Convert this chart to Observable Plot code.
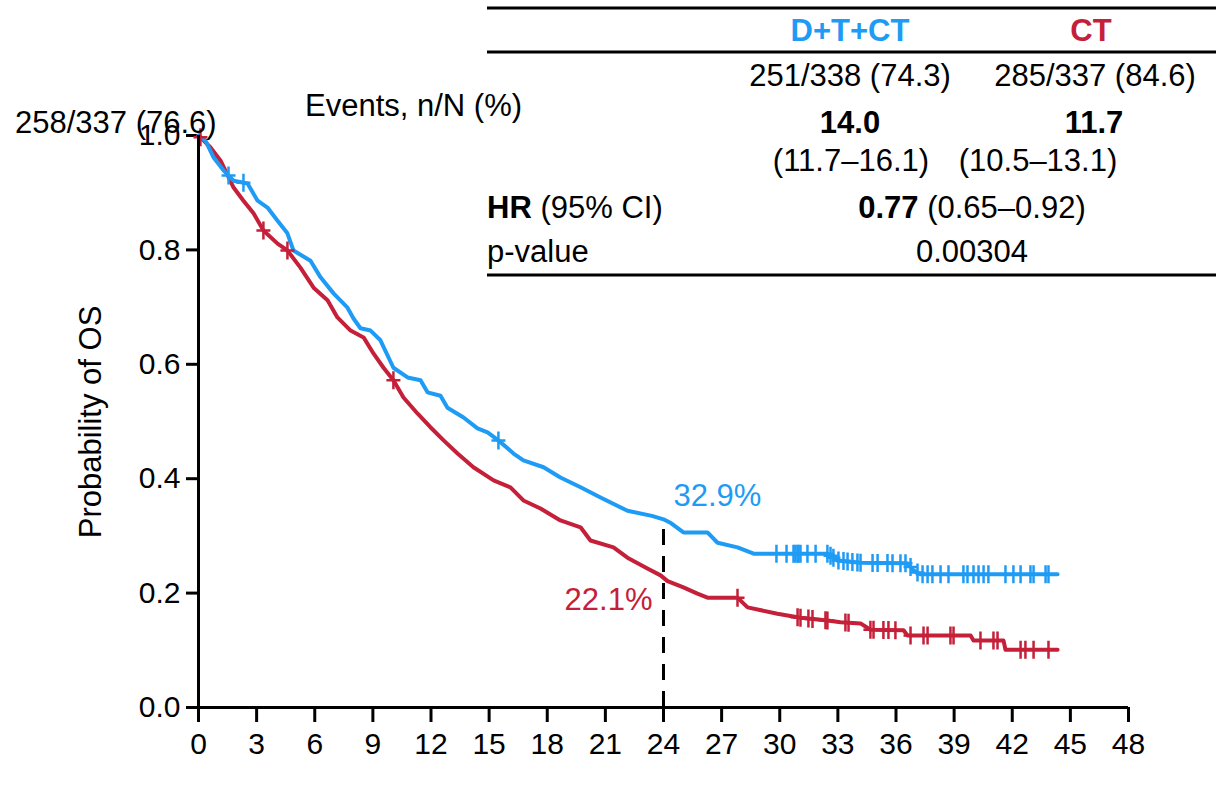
<!DOCTYPE html>
<html><head><meta charset="utf-8">
<script src="https://cdn.jsdelivr.net/npm/d3@7"></script>
<script src="https://cdn.jsdelivr.net/npm/@observablehq/plot@0.6"></script>
<style>
body{margin:0;background:#fff;}
svg{font-family:"Liberation Sans",Arial,sans-serif;}
g[aria-label^="x-axis"] line, g[aria-label^="x-axis"] path,
g[aria-label^="y-axis"] line, g[aria-label^="y-axis"] path{stroke-width:3px;}
</style>
</head><body><div id="chart"></div>
<script>
const BLUE = "#1e9bf5", RED = "#c52039";
const armNames = ["D+T+CT", "CT"];

// Kaplan–Meier OS curves (months, survival probability)
const blueTime = [0,0.36,0.77,1.29,1.81,2.53,3.05,3.56,4.08,4.59,4.90,5.78,6.30,6.97,7.69,8.00,8.36,8.88,9.39,10.06,10.79,11.46,11.82,12.49,12.85,13.68,14.40,14.92,15.48,16.26,16.77,17.81,18.68,19.72,20.75,22.14,23.40,24.00,24.40,25.03,26.27,26.79,27.82,28.65,32.46,32.98,34.17,36.59,36.90,37.26,44.34];
const blueSurv = [1.000,0.991,0.962,0.939,0.921,0.916,0.886,0.874,0.851,0.829,0.799,0.781,0.752,0.724,0.699,0.680,0.663,0.659,0.642,0.594,0.577,0.572,0.551,0.545,0.524,0.507,0.488,0.481,0.467,0.444,0.432,0.420,0.402,0.385,0.367,0.344,0.335,0.329,0.322,0.306,0.306,0.288,0.280,0.269,0.269,0.257,0.253,0.252,0.240,0.233,0.233];
const redTime = [0,0.10,0.62,1.14,1.81,2.32,2.84,3.35,4.08,4.59,5.26,5.94,6.66,7.17,7.85,8.52,9.03,9.55,10.06,10.58,11.30,11.97,12.65,13.37,14.19,15.23,16.10,16.77,17.65,18.68,19.72,20.23,21.42,22.14,23.17,23.85,24.21,25.03,25.75,26.27,27.82,28.34,29.88,31.07,32.46,33.14,34.17,34.68,36.39,36.59,39.85,40.00,41.55,41.65,44.34];
const redSurv = [1.000,0.997,0.979,0.956,0.909,0.886,0.864,0.834,0.811,0.799,0.769,0.734,0.712,0.682,0.659,0.647,0.619,0.594,0.572,0.542,0.514,0.490,0.467,0.444,0.420,0.397,0.385,0.362,0.348,0.327,0.315,0.292,0.280,0.262,0.243,0.231,0.221,0.210,0.199,0.192,0.192,0.175,0.164,0.157,0.152,0.149,0.147,0.136,0.135,0.126,0.126,0.117,0.117,0.101,0.101];

// censoring times (months)
const blueCensor = [1.55,2.32,15.48,29.83,30.35,30.71,30.81,30.92,30.97,31.07,31.43,31.85,32.46,32.62,32.77,33.03,33.29,33.50,33.75,34.01,34.17,34.79,35.05,35.56,35.82,36.23,36.49,36.75,37.11,37.37,37.63,37.88,38.30,38.71,39.48,39.69,40.00,40.26,40.52,40.77,41.65,42.06,42.43,42.94,43.10,43.72,43.87];
const redCensor = [0.10,3.35,4.59,10.06,27.82,30.92,31.07,31.48,31.69,32.36,32.46,33.39,33.55,34.68,34.84,35.35,35.61,35.97,36.75,37.42,37.63,38.81,38.97,40.36,41.03,41.24,42.43,42.68,43.10,43.87];

const landmarkMonth = 24;
const landmarkLabels = ["32.9%", "22.1%"];
const landmarkValues = [0.329, 0.221];

const xTicks = [0,3,6,9,12,15,18,21,24,27,30,33,36,39,42,45,48];
const yTicks = [0,0.2,0.4,0.6,0.8,1.0];
const yLabel = "Probability of OS";

// table
const eventsLabel = "Events, n/N (%)";
const eventsValues = ["251/338 (74.3)", "285/337 (84.6)"];
const medianValues = ["14.0", "11.7"];
const medianCI = ["(11.7–16.1)", "(10.5–13.1)"];
const hrLabel = ["HR", " (95% CI)"];
const hrValue = ["0.77", " (0.65–0.92)"];
const pLabel = "p-value";
const pValue = "0.00304";
const strayText = "258/337 (76.6)";

const blue = blueTime.map((t, i) => ({t, s: blueSurv[i]}));
const red = redTime.map((t, i) => ({t, s: redSurv[i]}));
function at(curve, t) {
  for (let i = 1; i < curve.length; i++) {
    if (curve[i].t >= t) {
      const a = curve[i-1], b = curve[i];
      const f = b.t === a.t ? 1 : (t - a.t) / (b.t - a.t);
      return a.s + f * (b.s - a.s);
    }
  }
  return curve[curve.length-1].s;
}
const blueC = blueCensor.map(t => ({t, s: at(blue, t)}));
const redC = redCensor.map(t => ({t, s: at(red, t)}));

const censorSymbol = {
  draw(ctx, size) {
    const h = 9, w = 7;
    ctx.moveTo(0, -h); ctx.lineTo(0, h);
    ctx.moveTo(-w, 0); ctx.lineTo(w, 0);
  }
};

const svg = Plot.plot({
  width: 1226, height: 799,
  marginLeft: 198, marginRight: 98, marginTop: 135, marginBottom: 92,
  style: {fontSize: "30px", fontFamily: "Liberation Sans, Arial, sans-serif", color: "#000", background: "#fff", overflow: "visible"},
  x: {domain: [0, 48], ticks: xTicks, tickSize: 15, tickPadding: 10, tickFormat: d => String(d), label: null},
  y: {domain: [0, 1], ticks: yTicks, tickSize: 12, tickPadding: 6, tickFormat: d => d.toFixed(1), label: null},
  marks: [
    Plot.ruleX([landmarkMonth], {y1: 0, y2: landmarkValues[0], stroke: "#000", strokeWidth: 3, strokeDasharray: "16,11"}),
    Plot.line(red, {x: "t", y: "s", stroke: RED, strokeWidth: 4}),
    Plot.line(blue, {x: "t", y: "s", stroke: BLUE, strokeWidth: 4}),
    Plot.dot(redC, {x: "t", y: "s", symbol: censorSymbol, stroke: RED, fill: "none", strokeWidth: 2.5}),
    Plot.dot(blueC, {x: "t", y: "s", symbol: censorSymbol, stroke: BLUE, fill: "none", strokeWidth: 2.5}),
    Plot.ruleX([0], {stroke: "#000", strokeWidth: 3}),
    Plot.ruleY([0], {stroke: "#000", strokeWidth: 3}),
    Plot.text([0], {x: () => landmarkMonth, y: () => landmarkValues[0], text: () => landmarkLabels[0], fill: BLUE, textAnchor: "start", dx: 10, dy: -23, fontSize: 31}),
    Plot.text([0], {x: () => landmarkMonth, y: () => landmarkValues[1], text: () => landmarkLabels[1], fill: RED, textAnchor: "end", dx: -11, dy: 19, fontSize: 31})
  ]
});
document.getElementById("chart").appendChild(svg);

const root = d3.select(svg);
root.selectAll(".tick line").attr("stroke-width", 3);

const g = root.append("g").attr("font-size", 31).attr("fill", "#000").attr("text-anchor", "start");
// y label
g.append("text").attr("transform", "translate(90,422) rotate(-90)").attr("text-anchor", "middle").attr("dominant-baseline", "central").text(yLabel);
// stray text
g.append("text").attr("x", 15).attr("y", 133).attr("text-anchor", "start").text(strayText);
// table rules
[8, 52, 275].forEach(y => g.append("line").attr("x1", 487).attr("x2", 1216).attr("y1", y).attr("y2", y).attr("stroke", "#000").attr("stroke-width", 3));
const colX = [850, 1095];
g.append("text").attr("x", colX[0]).attr("y", 41).attr("text-anchor", "middle").attr("font-weight", "bold").attr("fill", BLUE).text(armNames[0]);
g.append("text").attr("x", colX[1] - 4).attr("y", 41).attr("text-anchor", "middle").attr("font-weight", "bold").attr("fill", RED).text(armNames[1]);
eventsValues.forEach((v, i) => g.append("text").attr("x", colX[i]).attr("y", 86).attr("text-anchor", "middle").text(v));
g.append("text").attr("x", 305).attr("y", 116).attr("text-anchor", "start").text(eventsLabel);
medianValues.forEach((v, i) => g.append("text").attr("x", colX[i] - (i ? 1 : 0)).attr("y", 133).attr("text-anchor", "middle").attr("font-weight", "bold").text(v));
[851, 1038].forEach((x, i) => g.append("text").attr("x", x).attr("y", 171).attr("text-anchor", "middle").text(medianCI[i]));
const hr = g.append("text").attr("x", 487).attr("y", 218).attr("text-anchor", "start");
hr.append("tspan").attr("font-weight", "bold").text(hrLabel[0]);
hr.append("tspan").text(hrLabel[1]);
const hv = g.append("text").attr("x", 972).attr("y", 218).attr("text-anchor", "middle");
hv.append("tspan").attr("font-weight", "bold").text(hrValue[0]);
hv.append("tspan").text(hrValue[1]);
g.append("text").attr("x", 487).attr("y", 262).attr("text-anchor", "start").text(pLabel);
g.append("text").attr("x", 972).attr("y", 262).attr("text-anchor", "middle").text(pValue);
</script>
</body></html>
